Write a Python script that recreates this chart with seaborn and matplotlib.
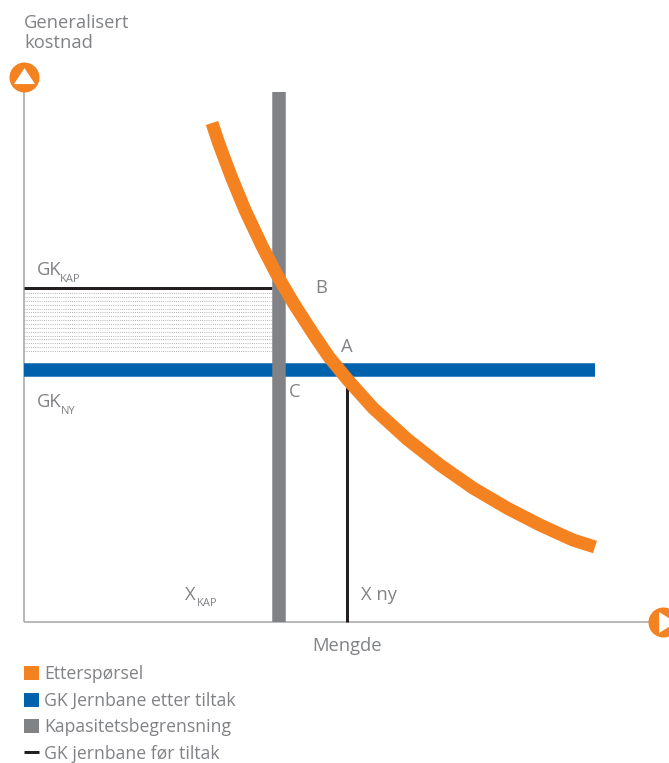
import numpy as np
import pandas as pd
import seaborn as sns
import matplotlib.pyplot as plt
from matplotlib.lines import Line2D
from matplotlib.patches import Patch

# Values (origin = where the two axes meet)
mengde = [188, 195, 207, 221, 238, 253, 270, 290, 305, 323, 349, 383, 416, 449, 483, 516, 549, 571]
kostnad = [499, 478, 446, 412, 376, 347, 318, 287, 265, 243, 214, 183, 157, 134, 114, 97, 82, 75]
gk_kap = 334
gk_ny = 252
x_kap = 254.5
x_ny = 323
kap_top = 530
gk_ny_end = 571
y_axis_end = 545
x_axis_end = 639

legend_labels = ['Etterspørsel', 'GK Jernbane etter tiltak', 'Kapasitetsbegrensning', 'GK jernbane før tiltak']

ORANGE = '#f58220'
BLUE = '#0061ad'
GREY = '#808285'
BLACK = '#231f20'
AXIS = '#a7a9ac'
TXT = '#808285'

sns.set_theme(style='white')
plt.rcParams['font.family'] = ['Open Sans', 'DejaVu Sans']

fig = plt.figure(figsize=(6.69, 7.63), dpi=100)
ax = fig.add_axes([0, 0, 1, 1])


def px(n):
    # line widths are measured in pixels on the reference
    return n * 72 / 100


def line(xs, ys, color, width, z):
    df = pd.DataFrame({'x': xs, 'y': ys})
    sns.lineplot(data=df, x='x', y='y', color=color, lw=px(width), sort=False,
                 estimator=None, ax=ax, zorder=z, solid_capstyle='butt')


# axes
line([0, 0], [0, y_axis_end], AXIS, 1.6, 1)
line([0, x_axis_end], [0, 0], AXIS, 1.6, 1)

# dotted area between the two cost levels
for y in np.arange(gk_ny + 19, gk_kap - 2, 3.85):
    ax.plot([0, x_kap - 6.5], [y, y], color='#9a9a9a', lw=0.6, ls=(0, (1, 1.6)), zorder=2)

line([0, x_kap - 6.5], [gk_kap, gk_kap], BLACK, 3, 3)
line([x_ny, x_ny], [0, gk_ny], BLACK, 3, 3)
line([0, gk_ny_end], [gk_ny, gk_ny], BLUE, 13.5, 4)
line([x_kap, x_kap], [0, kap_top], GREY, 13.5, 5)
line(mengde, kostnad, ORANGE, 13, 6)

# arrow heads on the axes
up = [(-1, -0.72), (1, -0.72), (0, 0.8)]
right = [(-0.8, -1), (-0.8, 1), (0.8, 0)]
ax.scatter([0, x_axis_end], [y_axis_end, 0], s=px(30) ** 2, color=ORANGE, lw=0, zorder=7)
ax.scatter([0], [y_axis_end + 1], s=px(21) ** 2, marker=up, color='white', lw=0, zorder=8)
ax.scatter([x_axis_end + 4], [0], s=px(21) ** 2, marker=right, color='white', lw=0, zorder=8)

fs = 13.2
ax.text(0, 589, 'Generalisert\nkostnad', color=TXT, fontsize=fs, va='center', ha='left', linespacing=1.18)
ax.text(323, -24, 'Mengde', color=TXT, fontsize=fs, va='center', ha='center')

labels = [('GK', 13, 352), ('B', 291, 334), ('A', 317, 275), ('C', 265, 230), ('GK', 13, 220),
          ('X', 161, 27), ('X ny', 337, 27)]
for t, x, y in labels:
    ax.text(x, y, t, color=TXT, fontsize=fs, va='center', ha='left')
for t, x, y in [('KAP', 36, 342), ('NY', 37, 211), ('KAP', 173, 18)]:
    ax.text(x, y, t, color=TXT, fontsize=8, va='center', ha='left')

handles = [Patch(color=ORANGE, lw=0), Patch(color=BLUE, lw=0), Patch(color=GREY, lw=0),
           Line2D([0], [0], color=BLACK, lw=px(3), solid_capstyle='butt')]
leg = ax.legend(handles, legend_labels, loc='lower left', bbox_to_anchor=(24 / 669, 0.0005), frameon=False,
                fontsize=12.7, labelcolor=TXT, handlelength=0.85, handleheight=0.85, handletextpad=0.28,
                labelspacing=0.48, borderpad=0, borderaxespad=0)

ax.set_xlim(-24, 645)
ax.set_ylim(-141, 622)
ax.axis('off')
fig.savefig('out.png', dpi=100)
